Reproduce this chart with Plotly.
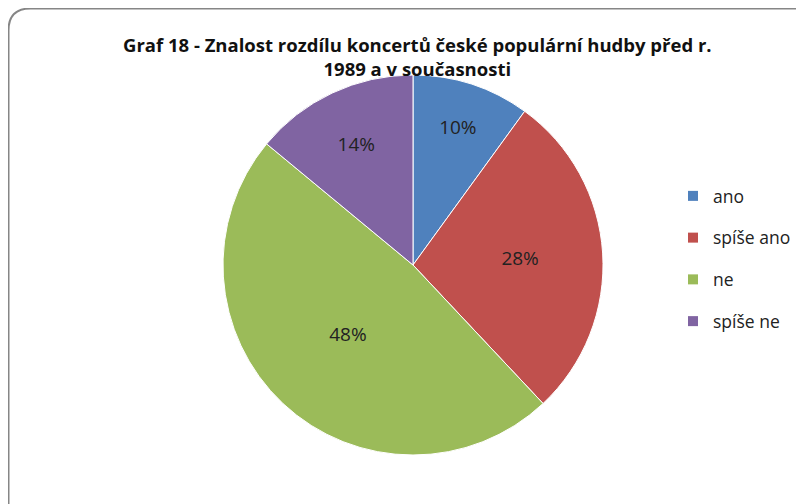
import plotly.graph_objects as go

# data
labels = ["ano", "spíše ano", "ne", "spíše ne"]
values = [10, 28, 48, 14]
colors = ["#4F81BD", "#C0504D", "#9BBB59", "#8064A2"]

W, H = 804, 504
FONT = "Open Sans"
OFF = 8  # okraj stránky (body margin) v prohlížeči


def px(x):
    return (x - OFF) / W


def py(y):
    return 1 - (y - OFF) / H


fig = go.Figure()

fig.add_trace(go.Pie(
    labels=labels, values=values, sort=False, direction="clockwise", rotation=0,
    marker=dict(colors=colors, line=dict(color="white", width=1)),
    texttemplate="%{percent:.0%}", textposition="inside",
    insidetextorientation="horizontal",
    textfont=dict(family=FONT, size=19, color="#222222"),
    showlegend=False, hoverinfo="label+percent",
    domain=dict(x=[px(223), px(603)], y=[py(455), py(75)]),
))

# legenda: samostatné položky, aby šla nastavit mezera mezi nimi
for i, (lab, col) in enumerate(zip(labels, colors)):
    fig.add_trace(go.Scatter(
        x=[None], y=[None], mode="markers", name=lab, legendgroup=f"g{i}",
        marker=dict(symbol="square", size=10, color=col),
    ))

# ohraničení s kulatým rohem (vidět jen levá a horní hrana)
r = 22
path = (f"M {px(8.5)},-0.1 L {px(8.5)},{py(8.5 + r)} "
        f"Q {px(8.5)},{py(8.5)} {px(8.5 + r)},{py(8.5)} L 1.1,{py(8.5)}")
fig.add_shape(type="path", path=path, xref="paper", yref="paper",
              line=dict(color="#868686", width=2))

fig.add_annotation(
    text="<b>Graf 18 - Znalost rozdílu koncertů české populární hudby před r.<br>1989 a v současnosti</b>",
    x=px(418), y=py(30), xref="paper", yref="paper", xanchor="center", yanchor="top",
    showarrow=False, align="center",
    font=dict(family=FONT, size=18.5, color="#111111"),
)

fig.update_layout(
    width=W, height=H, margin=dict(l=0, r=0, t=0, b=0),
    paper_bgcolor="white", plot_bgcolor="white",
    xaxis=dict(visible=False), yaxis=dict(visible=False),
    legend=dict(x=px(673), y=py(178), xanchor="left", yanchor="top",
                tracegroupgap=16, font=dict(family=FONT, size=17.5, color="#222222"),
                itemclick=False),
    showlegend=True,
)

fig.write_html("out.html")
